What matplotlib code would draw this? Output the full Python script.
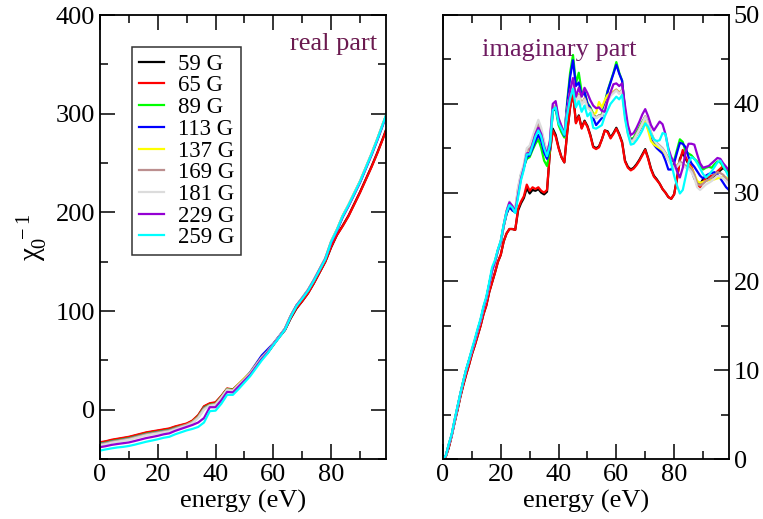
import matplotlib
matplotlib.use("Agg")
import matplotlib.pyplot as plt
from matplotlib.ticker import MultipleLocator

plt.rcParams['font.family'] = ['Liberation Serif', 'DejaVu Serif']
plt.rcParams['mathtext.fontset'] = 'custom'
plt.rcParams['mathtext.rm'] = 'Liberation Serif'
plt.rcParams['mathtext.it'] = 'Liberation Serif'

labels = ["59 G", "65 G", "89 G", "113 G", "137 G", "169 G", "181 G", "229 G", "259 G"]
colors = ["#000000", "#ff0000", "#00ff00", "#0000ff", "#ffff00", "#bc8f8f", "#dcdcdc", "#9400d3", "#00ffff"]

# ---------------- real part ----------------
energy_re = [0, 2, 4, 6, 8, 10, 12, 14, 16, 18, 20, 22, 24, 26, 28, 30, 32, 34, 36, 38,
             40, 42, 44, 46, 48, 50, 52, 54, 56, 58, 60, 62, 64, 66, 68, 70, 72, 74, 76, 78,
             80, 82, 84, 86, 88, 90, 92, 94, 96, 98, 99]

re_59 = [-33.5, -32.5, -31.0, -30.0, -29.0, -28.0, -26.5, -25.0, -23.5, -22.5,
         -21.5, -20.5, -19.5, -17.5, -16.0, -14.5, -11.5, -6.0, 3.0, 6.0,
         7.0, 13.5, 21.0, 20.0, 25.5, 31.0, 36.5, 44.5, 51.5, 57.5,
         65.5, 73.5, 80.5, 92.5, 102.5, 110.0, 118.0, 128.0, 139.0, 150.0,
         164.5, 177.0, 186.5, 196.5, 208.5, 220.5, 233.5, 246.5, 260.5, 275.5, 283.5]
re_65 = [-33.0, -32.0, -30.5, -29.5, -28.5, -27.5, -26.0, -24.5, -23.0, -22.0,
         -21.0, -20.0, -19.0, -17.0, -15.5, -14.0, -11.0, -5.5, 3.5, 6.5,
         7.5, 14.0, 21.5, 20.5, 26.0, 31.5, 37.0, 45.0, 52.0, 58.0,
         66.0, 74.0, 81.0, 93.0, 103.0, 110.0, 118.0, 128.0, 139.0, 150.0,
         165.0, 177.0, 186.0, 196.0, 208.0, 220.0, 233.0, 246.0, 260.0, 275.0, 283.0]
re_89 = [-34.5, -33.5, -32.0, -31.0, -30.0, -29.0, -27.5, -26.0, -24.5, -23.5,
         -22.5, -21.5, -20.5, -18.5, -17.0, -15.5, -12.5, -7.0, 2.0, 5.0,
         6.0, 13.0, 21.0, 20.0, 25.5, 31.0, 37.0, 45.0, 53.0, 59.0,
         66.5, 74.0, 82.0, 95.0, 105.5, 113.0, 121.0, 131.0, 142.0, 153.0,
         170.0, 182.0, 196.0, 207.0, 219.0, 231.0, 245.0, 259.0, 274.0, 290.0, 297.5]
re_113 = [-35.0, -34.0, -32.5, -31.5, -30.5, -29.5, -28.0, -26.5, -25.0, -24.0,
          -23.0, -22.0, -21.0, -19.0, -17.5, -16.0, -13.0, -7.5, 1.5, 4.5,
          5.5, 12.5, 20.5, 19.5, 25.5, 31.5, 38.0, 46.5, 55.0, 61.0,
          67.0, 74.5, 82.0, 95.0, 105.5, 113.0, 121.0, 131.0, 142.0, 153.0,
          170.0, 182.0, 196.0, 207.0, 219.0, 231.0, 245.0, 259.0, 274.0, 290.0, 297.5]
re_137 = [-35.5, -34.5, -33.0, -32.0, -31.0, -30.0, -28.5, -27.0, -25.5, -24.5,
          -23.5, -22.5, -21.5, -19.5, -17.5, -15.5, -12.5, -7.5, 1.0, 4.5,
          5.5, 12.5, 20.5, 19.5, 26.0, 32.0, 37.5, 45.5, 53.0, 59.0,
          66.5, 74.0, 82.0, 95.0, 105.5, 113.5, 121.5, 131.5, 142.5, 153.5,
          170.5, 182.5, 196.5, 207.5, 219.5, 231.5, 245.5, 259.5, 274.5, 290.5, 298.0]
re_169 = [-35.0, -34.0, -32.5, -31.5, -30.5, -29.5, -28.0, -26.5, -25.0, -24.0,
          -23.0, -22.0, -21.0, -19.0, -17.0, -15.2, -12.5, -7.5, 1.0, 4.5,
          5.5, 12.5, 20.5, 19.5, 25.5, 31.0, 37.0, 45.0, 53.0, 59.0,
          66.5, 74.0, 82.0, 95.0, 105.5, 113.5, 121.5, 131.5, 142.5, 153.5,
          170.5, 182.5, 196.5, 207.5, 219.5, 231.5, 245.5, 259.5, 274.5, 290.5, 298.0]
re_181 = [-36.0, -35.0, -33.5, -32.5, -31.5, -30.5, -29.0, -27.5, -26.0, -25.0,
          -24.0, -23.0, -22.0, -20.0, -18.0, -16.2, -13.5, -8.5, 0.0, 4.0,
          5.0, 12.0, 20.0, 19.0, 25.0, 30.5, 36.5, 44.5, 52.5, 58.5,
          66.0, 74.0, 82.0, 95.0, 105.5, 113.5, 121.5, 131.5, 142.5, 153.5,
          170.5, 182.5, 196.5, 207.5, 219.5, 231.5, 245.5, 259.5, 274.5, 290.5, 298.0]
re_229 = [-38.0, -37.0, -35.7, -34.8, -34.0, -33.2, -31.8, -30.3, -28.8, -27.7,
          -26.5, -25.0, -24.0, -21.5, -19.5, -17.5, -15.5, -13.0, -8.5, 2.5,
          2.5, 9.5, 18.0, 17.5, 23.5, 29.5, 35.5, 43.5, 51.5, 58.0,
          66.0, 73.5, 81.5, 94.5, 105.5, 113.0, 121.0, 131.0, 142.0, 153.0,
          169.0, 181.0, 195.0, 206.0, 218.0, 230.0, 244.0, 258.0, 273.0, 289.0, 297.0]
re_259 = [-41.5, -40.3, -39.2, -38.3, -37.7, -36.8, -35.5, -34.0, -32.5, -31.3,
          -30.0, -28.5, -27.5, -25.0, -23.0, -21.0, -19.5, -17.5, -13.0, -1.5,
          -1.0, 6.0, 15.0, 15.0, 21.0, 27.5, 34.0, 42.0, 50.0, 57.0,
          65.5, 73.0, 81.0, 94.0, 105.0, 112.5, 120.5, 130.5, 141.5, 152.5,
          170.0, 182.0, 196.0, 207.0, 219.0, 231.0, 245.0, 259.0, 274.0, 290.0, 298.5]

# ---------------- imaginary part ----------------
energy_im = list(range(100))

im_59 = [0.0, 0.3, 1.3, 2.6, 4.1, 5.5, 7.0, 8.3, 9.5, 10.6,
         11.8, 12.8, 13.9, 15.0, 16.3, 17.3, 18.8, 19.9, 21.0, 22.2,
         23.0, 24.5, 25.4, 25.9, 25.9, 25.8, 28.0, 28.8, 29.4, 30.5,
         29.9, 30.3, 30.2, 30.4, 30.0, 29.8, 30.1, 34.6, 37.2, 36.5,
         35.1, 34.0, 33.4, 36.8, 39.6, 41.3, 37.9, 38.7, 37.3, 38.1,
         37.5, 36.5, 35.2, 35.0, 35.2, 36.0, 37.0, 36.9, 36.2, 36.7,
         37.3, 36.6, 35.7, 33.6, 32.9, 32.6, 32.8, 33.2, 33.7, 34.3,
         34.9, 33.9, 32.7, 31.9, 31.5, 31.0, 30.4, 30.0, 29.5, 29.3,
         29.8, 31.6, 33.8, 34.5, 33.8, 33.2, 32.6, 31.6, 31.2, 30.9,
         31.5, 31.6, 31.6, 31.7, 31.9, 32.2, 32.5, 32.8, 32.5, 32.0]
im_65 = [0.0, 0.3, 1.3, 2.6, 4.1, 5.5, 7.0, 8.3, 9.5, 10.6,
         11.8, 12.8, 13.9, 15.0, 16.3, 17.3, 18.8, 19.9, 21.0, 22.2,
         23.0, 24.5, 25.4, 25.9, 25.9, 25.8, 28.2, 29.0, 29.6, 30.9,
         30.2, 30.6, 30.4, 30.6, 30.2, 30.0, 30.3, 34.5, 37.0, 36.3,
         35.0, 34.0, 33.4, 36.8, 39.6, 41.3, 37.8, 38.6, 37.2, 38.0,
         37.4, 36.4, 35.1, 34.9, 35.1, 36.0, 37.0, 36.8, 36.1, 36.6,
         37.2, 36.5, 35.6, 33.5, 32.8, 32.5, 32.7, 33.1, 33.6, 34.2,
         34.8, 33.8, 32.6, 31.8, 31.4, 31.0, 30.4, 30.0, 29.5, 29.3,
         29.8, 31.5, 33.6, 34.8, 34.0, 33.3, 32.9, 32.0, 30.8, 30.6,
         31.2, 31.7, 31.8, 31.9, 32.0, 32.4, 32.7, 33.0, 32.6, 32.2]
im_89 = [0.0, 0.4, 1.6, 2.7, 4.3, 5.8, 7.3, 8.7, 10.0, 11.1,
         12.2, 13.3, 14.5, 15.6, 17.0, 18.1, 19.7, 21.3, 22.2, 23.5,
         24.4, 26.2, 27.6, 28.4, 28.0, 27.8, 30.0, 32.0, 32.9, 33.8,
         34.0, 34.8, 35.5, 36.0, 35.0, 33.6, 33.0, 34.8, 39.2, 39.4,
         37.6, 36.8, 36.2, 40.3, 43.5, 45.5, 42.3, 43.5, 41.3, 41.4,
         40.1, 39.6, 38.9, 38.4, 38.7, 38.8, 40.2, 41.5, 42.5, 43.5,
         44.7, 43.5, 42.6, 39.3, 37.0, 36.0, 36.2, 36.8, 37.4, 38.0,
         38.5, 37.6, 36.4, 35.6, 35.3, 35.0, 34.8, 34.4, 33.9, 33.5,
         33.6, 34.8, 36.0, 35.7, 34.6, 34.4, 34.2, 33.8, 33.5, 33.0,
         32.6, 32.8, 32.9, 32.8, 33.2, 33.5, 33.4, 32.9, 32.5, 32.0]
im_113 = [0.0, 0.4, 1.6, 2.7, 4.3, 5.8, 7.3, 8.7, 10.0, 11.1,
          12.2, 13.3, 14.5, 15.6, 17.0, 18.1, 19.7, 21.3, 22.2, 23.5,
          24.4, 26.2, 27.6, 28.4, 28.0, 27.8, 30.0, 32.0, 32.9, 34.0,
          34.2, 35.0, 35.8, 36.5, 35.8, 34.5, 33.8, 35.0, 39.2, 39.6,
          37.9, 37.2, 36.4, 40.0, 43.0, 44.9, 42.0, 42.4, 40.9, 41.3,
          40.0, 39.5, 38.4, 37.6, 38.0, 38.4, 39.8, 41.4, 42.4, 43.4,
          44.4, 43.4, 42.6, 39.2, 37.0, 35.9, 36.0, 36.5, 37.0, 37.6,
          38.0, 37.2, 36.2, 35.4, 35.0, 34.7, 34.4, 33.6, 32.6, 32.6,
          33.3, 34.5, 35.6, 35.5, 35.1, 34.0, 33.3, 32.9, 32.4, 31.9,
          31.6, 31.9, 32.1, 32.2, 32.3, 32.0, 31.6, 31.1, 30.6, 30.3]
im_137 = [0.0, 0.4, 1.6, 2.7, 4.3, 5.8, 7.3, 8.7, 10.0, 11.1,
          12.2, 13.3, 14.5, 15.6, 17.0, 18.1, 19.6, 21.2, 22.2, 23.5,
          24.5, 26.3, 27.9, 28.9, 28.4, 28.0, 30.4, 31.9, 33.0, 34.6,
          34.9, 35.9, 36.9, 37.6, 36.9, 35.5, 34.4, 35.6, 39.6, 39.9,
          38.1, 37.3, 36.6, 39.2, 41.3, 42.7, 40.3, 41.1, 40.0, 40.6,
          39.6, 39.4, 38.8, 39.0, 40.2, 39.6, 40.4, 41.0, 41.2, 41.4,
          41.6, 41.3, 41.5, 38.7, 36.7, 35.7, 35.9, 36.5, 37.1, 37.6,
          38.0, 37.0, 35.8, 35.4, 35.2, 35.0, 34.8, 34.3, 33.7, 33.2,
          32.9, 33.1, 33.4, 33.2, 33.0, 33.1, 32.7, 32.1, 31.3, 31.1,
          31.2, 31.3, 31.4, 31.4, 31.5, 31.6, 31.7, 31.8, 31.7, 31.5]
im_169 = [0.0, 0.4, 1.6, 2.7, 4.3, 5.8, 7.3, 8.7, 10.0, 11.1,
          12.2, 13.3, 14.5, 15.6, 17.0, 18.1, 19.6, 21.2, 22.2, 23.5,
          24.5, 26.3, 27.9, 28.9, 28.4, 28.0, 30.5, 32.0, 33.0, 34.7,
          35.0, 36.0, 37.0, 37.8, 37.0, 35.6, 34.5, 35.6, 39.7, 40.0,
          38.2, 37.4, 36.6, 39.2, 41.2, 42.6, 40.2, 41.0, 40.0, 40.6,
          39.6, 39.4, 38.7, 38.5, 38.7, 38.7, 39.5, 40.4, 41.0, 41.3,
          41.6, 41.2, 41.6, 38.8, 36.8, 35.8, 36.0, 36.6, 37.2, 37.9,
          38.6, 37.8, 36.8, 36.0, 35.6, 35.3, 35.0, 34.5, 33.8, 33.2,
          32.8, 33.0, 33.5, 33.3, 33.0, 33.0, 32.6, 32.0, 31.0, 30.8,
          31.0, 31.3, 31.5, 31.7, 32.0, 32.3, 32.2, 32.0, 31.6, 31.2]
im_181 = [0.0, 0.4, 1.6, 2.7, 4.3, 5.8, 7.3, 8.7, 10.0, 11.1,
          12.2, 13.3, 14.5, 15.6, 17.0, 18.1, 19.6, 21.2, 22.2, 23.5,
          24.5, 26.3, 27.9, 29.0, 28.5, 28.1, 30.7, 32.2, 33.2, 35.0,
          35.3, 36.3, 37.3, 38.2, 37.3, 35.8, 34.6, 35.7, 39.8, 40.1,
          38.3, 37.5, 36.7, 39.3, 41.3, 42.5, 40.1, 40.9, 39.9, 40.5,
          39.5, 39.3, 38.6, 38.4, 38.6, 38.6, 39.4, 40.3, 40.9, 41.2,
          41.5, 41.1, 41.5, 38.7, 36.7, 35.7, 35.9, 36.5, 37.1, 37.8,
          38.5, 37.7, 36.7, 35.9, 35.5, 35.2, 34.9, 34.4, 33.7, 33.1,
          32.7, 32.9, 33.3, 33.1, 32.8, 32.7, 32.3, 31.6, 30.6, 30.3,
          30.6, 30.9, 31.1, 31.3, 31.6, 31.9, 31.8, 31.6, 31.3, 30.9]
im_229 = [0.0, 0.4, 1.6, 2.7, 4.3, 5.8, 7.3, 8.7, 10.0, 11.1,
          12.2, 13.3, 14.5, 15.6, 17.0, 18.1, 19.6, 21.2, 22.2, 23.5,
          24.5, 26.3, 27.9, 28.9, 28.5, 27.9, 29.8, 31.6, 32.8, 34.4,
          34.5, 35.5, 36.6, 37.3, 36.6, 35.2, 34.3, 35.8, 40.0, 40.3,
          38.4, 37.5, 36.6, 39.3, 41.5, 42.9, 40.8, 41.8, 40.8, 41.8,
          41.2, 40.4, 39.8, 39.5, 39.6, 39.2, 39.1, 40.4, 41.3, 42.2,
          42.3, 42.0, 42.3, 39.8, 37.6, 36.5, 36.7, 37.3, 38.0, 38.8,
          39.4, 38.6, 37.6, 37.0, 37.5, 38.0, 37.7, 36.6, 35.0, 34.0,
          33.4, 32.4, 31.7, 32.8, 34.6, 35.5, 35.5, 35.4, 34.3, 33.3,
          32.8, 32.9, 33.0, 33.3, 33.6, 33.9, 33.8, 33.3, 32.9, 32.5]
im_259 = [0.0, 0.4, 1.7, 2.8, 4.4, 5.9, 7.4, 8.8, 10.1, 11.2,
          12.4, 13.5, 14.7, 15.8, 17.2, 18.3, 19.9, 21.6, 22.4, 23.6,
          24.6, 26.4, 27.8, 28.6, 28.3, 27.7, 29.5, 31.4, 32.6, 34.3,
          34.3, 35.3, 36.3, 37.0, 36.3, 35.0, 34.1, 35.3, 39.3, 39.6,
          37.8, 37.2, 36.5, 38.8, 40.6, 41.7, 39.6, 40.3, 39.1, 39.8,
          38.6, 39.0, 37.3, 37.2, 37.4, 37.6, 38.6, 39.3, 40.0, 40.4,
          40.8, 40.5, 41.0, 38.3, 36.6, 35.4, 35.5, 35.9, 36.4, 37.0,
          37.8, 37.4, 36.6, 36.0, 35.8, 35.9, 36.7, 36.6, 34.8, 33.3,
          31.9, 30.8, 29.9, 30.3, 31.8, 33.4, 34.0, 33.8, 33.3, 32.7,
          32.1, 31.7, 32.0, 32.4, 32.9, 33.4, 33.6, 33.0, 32.4, 31.7]

real_series = [re_59, re_65, re_89, re_113, re_137, re_169, re_181, re_229, re_259]
imag_series = [im_59, im_65, im_89, im_113, im_137, im_169, im_181, im_229, im_259]

fig = plt.figure(figsize=(7.63, 5.19), dpi=100)
ax1 = fig.add_axes([100/763, 60/519, 286/763, 444/519])
ax2 = fig.add_axes([443/763, 60/519, 286/763, 444/519])

for ys, c, lab in zip(real_series, colors, labels):
    ax1.plot(energy_re, ys, color=c, lw=1.6, label=lab)
for ys, c, lab in zip(imag_series, colors, labels):
    ax2.plot(energy_im, ys, color=c, lw=1.6, label=lab)

tick_fs = 19
for ax in (ax1, ax2):
    ax.set_xlim(0, 99)
    ax.xaxis.set_major_locator(MultipleLocator(20))
    ax.xaxis.set_minor_locator(MultipleLocator(10))
    ax.tick_params(which='both', direction='in', top=True, right=True,
                   labelsize=tick_fs, width=1.1, colors='black')
    ax.tick_params(which='major', length=11)
    ax.tick_params(which='minor', length=6)
    for s in ax.spines.values():
        s.set_linewidth(1.3)
    ax.set_xlabel('energy (eV)', fontsize=tick_fs, labelpad=3)

ax1.set_ylim(-50, 400)
ax1.yaxis.set_major_locator(MultipleLocator(100))
ax1.yaxis.set_minor_locator(MultipleLocator(50))
ax1.set_ylabel(r'$\chi_0^{\;-1}$', fontsize=tick_fs + 2, labelpad=4)

ax2.set_ylim(0, 50)
ax2.yaxis.set_major_locator(MultipleLocator(10))
ax2.yaxis.set_minor_locator(MultipleLocator(5))
ax2.tick_params(axis='y', which='both', labelleft=False, labelright=True)

ax1.text(0.9675, 0.921, 'real part', transform=ax1.transAxes, ha='right',
         va='baseline', fontsize=19, color='#6b1a4f')
ax2.text(0.135, 0.9077, 'imaginary part', transform=ax2.transAxes, ha='left',
         va='baseline', fontsize=19, color='#6e1a60')

leg = ax1.legend(loc='upper left', bbox_to_anchor=(0.111, 0.9286), borderaxespad=0,
                 fontsize=16.5, frameon=True, fancybox=False, handlelength=1.1,
                 handletextpad=0.6, labelspacing=0.03, borderpad=0.3)
leg.get_frame().set_edgecolor('black')
leg.get_frame().set_linewidth(1.1)
for h in leg.get_lines():
    h.set_linewidth(1.6)

fig.savefig('out.png', dpi=100)
